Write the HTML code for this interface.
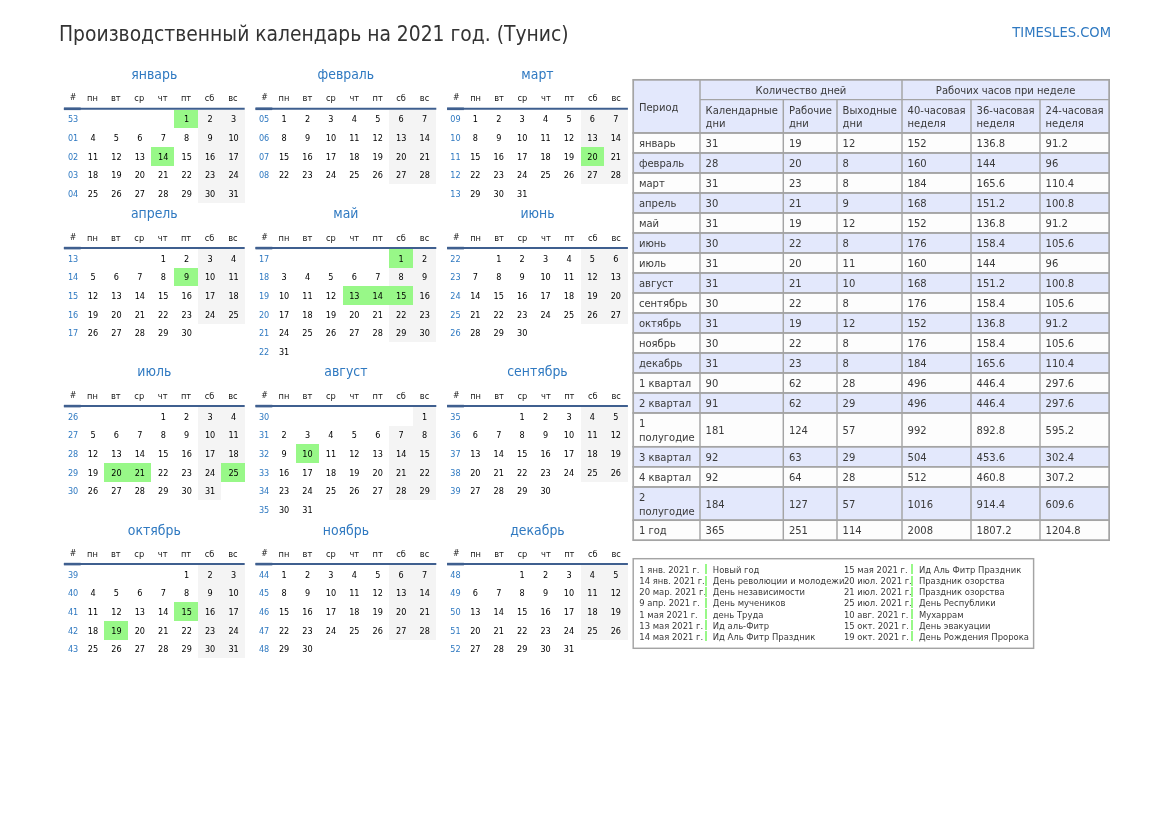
<!DOCTYPE html><html lang="ru"><head><meta charset="utf-8"><title>Производственный календарь на 2021 год. (Тунис)</title><style>html,body{margin:0;padding:0;background:#fff;}
body{width:1169px;height:827px;position:relative;overflow:hidden;font-family:"DejaVu Sans Condensed","DejaVu Sans","Liberation Sans",sans-serif;font-stretch:condensed;color:#222;}
.title{position:absolute;left:59px;top:21.5px;font-size:20.83px;line-height:24px;color:#333;white-space:nowrap;}
.site{position:absolute;right:58px;top:23px;font-size:14.58px;line-height:18px;color:#2f79c1;white-space:nowrap;}
.cal{position:absolute;left:63.9px;top:0;width:564px;}
.mr{position:absolute;left:0;width:564px;display:flex;justify-content:space-between;}
.mr0{top:63.8px}.mr1{top:203.1px}.mr2{top:361.1px}.mr3{top:519.1px}
.m{width:180.8px;}
.mt{text-align:center;color:#2f79c1;font-size:13.89px;line-height:20px;height:24px;}
table{border-collapse:collapse;border-spacing:0;}
.mr3 .mt{position:relative;top:0.8px;}
.c{width:180.8px;table-layout:fixed;border-collapse:separate;border-spacing:0;}
.c th{font-weight:normal;font-size:9.2px;color:#151515;height:18.3px;line-height:18.3px;padding:1.6px 0 0 0;border-bottom:2.08px solid transparent;text-align:center;}
.c th:first-child,.c td:first-child{width:15.3px;padding-left:1.5px;}
.c td{font-size:9.03px;height:17.08px;line-height:17.08px;padding:1.6px 0 0 1.2px;text-align:center;color:#000;}
.m:nth-child(2) .c td{padding-left:0.2px;}
.m:nth-child(3) .c td{padding-left:0;padding-right:0.6px;}
.m:nth-child(2) .c td:first-child{padding-left:0.4px;width:16.4px;}
.m:nth-child(3) .c td:first-child{padding-left:0;padding-right:0;width:16.8px;}
.c th:first-child{padding-top:0.6px;height:19.3px;line-height:19.3px;font-size:8.7px;}
.c td.w{color:#2f79c1;}
.c td.e{background:#f4f4f4;}
.c td.h{background:#98f888;}
.tsvg{position:absolute;left:0;top:0;}
.t{position:absolute;display:grid;font-size:11.11px;line-height:13.6px;color:#3a3a3a;}
.t>div{display:flex;align-items:center;padding:2px 0 0 5.6px;box-sizing:border-box;white-space:nowrap;overflow:hidden;}
.t>div.g{justify-content:center;padding-left:0;}
.hol{position:absolute;left:632.5px;top:558px;width:401.8px;height:91px;border:1.39px solid transparent;box-sizing:border-box;font-size:9.375px;color:#3a3a3a;}
.hc{position:absolute;top:5.1px;}
.hl{left:5.8px}.hr{left:210.4px}
.r{height:11.13px;line-height:11.13px;white-space:nowrap;display:flex;}
.dt{display:block;box-sizing:border-box;}
.hl .dt{width:65.5px}.hr .dt{width:67px}
.nm{display:block;position:relative;padding-left:8px;}
.nm:before{content:"";position:absolute;left:0;top:0.3px;width:2.5px;height:10.1px;background:#98f888;}
</style></head><body>
<div class="title">Производственный календарь на 2021 год. (Тунис)</div>
<div class="site">TIMESLES.COM</div>
<div class="cal">
<div class="mr mr0">
<div class="m"><div class="mt">январь</div><table class="c"><thead><tr><th>#</th><th>пн</th><th>вт</th><th>ср</th><th>чт</th><th>пт</th><th>сб</th><th>вс</th></tr></thead><tbody><tr><td class="w">53</td><td></td><td></td><td></td><td></td><td class="h">1</td><td class="e">2</td><td class="e">3</td></tr><tr><td class="w">01</td><td>4</td><td>5</td><td>6</td><td>7</td><td>8</td><td class="e">9</td><td class="e">10</td></tr><tr><td class="w">02</td><td>11</td><td>12</td><td>13</td><td class="h">14</td><td>15</td><td class="e">16</td><td class="e">17</td></tr><tr><td class="w">03</td><td>18</td><td>19</td><td>20</td><td>21</td><td>22</td><td class="e">23</td><td class="e">24</td></tr><tr><td class="w">04</td><td>25</td><td>26</td><td>27</td><td>28</td><td>29</td><td class="e">30</td><td class="e">31</td></tr></tbody></table></div>
<div class="m"><div class="mt">февраль</div><table class="c"><thead><tr><th>#</th><th>пн</th><th>вт</th><th>ср</th><th>чт</th><th>пт</th><th>сб</th><th>вс</th></tr></thead><tbody><tr><td class="w">05</td><td>1</td><td>2</td><td>3</td><td>4</td><td>5</td><td class="e">6</td><td class="e">7</td></tr><tr><td class="w">06</td><td>8</td><td>9</td><td>10</td><td>11</td><td>12</td><td class="e">13</td><td class="e">14</td></tr><tr><td class="w">07</td><td>15</td><td>16</td><td>17</td><td>18</td><td>19</td><td class="e">20</td><td class="e">21</td></tr><tr><td class="w">08</td><td>22</td><td>23</td><td>24</td><td>25</td><td>26</td><td class="e">27</td><td class="e">28</td></tr></tbody></table></div>
<div class="m"><div class="mt">март</div><table class="c"><thead><tr><th>#</th><th>пн</th><th>вт</th><th>ср</th><th>чт</th><th>пт</th><th>сб</th><th>вс</th></tr></thead><tbody><tr><td class="w">09</td><td>1</td><td>2</td><td>3</td><td>4</td><td>5</td><td class="e">6</td><td class="e">7</td></tr><tr><td class="w">10</td><td>8</td><td>9</td><td>10</td><td>11</td><td>12</td><td class="e">13</td><td class="e">14</td></tr><tr><td class="w">11</td><td>15</td><td>16</td><td>17</td><td>18</td><td>19</td><td class="h">20</td><td class="e">21</td></tr><tr><td class="w">12</td><td>22</td><td>23</td><td>24</td><td>25</td><td>26</td><td class="e">27</td><td class="e">28</td></tr><tr><td class="w">13</td><td>29</td><td>30</td><td>31</td><td></td><td></td><td></td><td></td></tr></tbody></table></div>
</div>
<div class="mr mr1">
<div class="m"><div class="mt">апрель</div><table class="c"><thead><tr><th>#</th><th>пн</th><th>вт</th><th>ср</th><th>чт</th><th>пт</th><th>сб</th><th>вс</th></tr></thead><tbody><tr><td class="w">13</td><td></td><td></td><td></td><td>1</td><td>2</td><td class="e">3</td><td class="e">4</td></tr><tr><td class="w">14</td><td>5</td><td>6</td><td>7</td><td>8</td><td class="h">9</td><td class="e">10</td><td class="e">11</td></tr><tr><td class="w">15</td><td>12</td><td>13</td><td>14</td><td>15</td><td>16</td><td class="e">17</td><td class="e">18</td></tr><tr><td class="w">16</td><td>19</td><td>20</td><td>21</td><td>22</td><td>23</td><td class="e">24</td><td class="e">25</td></tr><tr><td class="w">17</td><td>26</td><td>27</td><td>28</td><td>29</td><td>30</td><td></td><td></td></tr></tbody></table></div>
<div class="m"><div class="mt">май</div><table class="c"><thead><tr><th>#</th><th>пн</th><th>вт</th><th>ср</th><th>чт</th><th>пт</th><th>сб</th><th>вс</th></tr></thead><tbody><tr><td class="w">17</td><td></td><td></td><td></td><td></td><td></td><td class="h">1</td><td class="e">2</td></tr><tr><td class="w">18</td><td>3</td><td>4</td><td>5</td><td>6</td><td>7</td><td class="e">8</td><td class="e">9</td></tr><tr><td class="w">19</td><td>10</td><td>11</td><td>12</td><td class="h">13</td><td class="h">14</td><td class="h">15</td><td class="e">16</td></tr><tr><td class="w">20</td><td>17</td><td>18</td><td>19</td><td>20</td><td>21</td><td class="e">22</td><td class="e">23</td></tr><tr><td class="w">21</td><td>24</td><td>25</td><td>26</td><td>27</td><td>28</td><td class="e">29</td><td class="e">30</td></tr><tr><td class="w">22</td><td>31</td><td></td><td></td><td></td><td></td><td></td><td></td></tr></tbody></table></div>
<div class="m"><div class="mt">июнь</div><table class="c"><thead><tr><th>#</th><th>пн</th><th>вт</th><th>ср</th><th>чт</th><th>пт</th><th>сб</th><th>вс</th></tr></thead><tbody><tr><td class="w">22</td><td></td><td>1</td><td>2</td><td>3</td><td>4</td><td class="e">5</td><td class="e">6</td></tr><tr><td class="w">23</td><td>7</td><td>8</td><td>9</td><td>10</td><td>11</td><td class="e">12</td><td class="e">13</td></tr><tr><td class="w">24</td><td>14</td><td>15</td><td>16</td><td>17</td><td>18</td><td class="e">19</td><td class="e">20</td></tr><tr><td class="w">25</td><td>21</td><td>22</td><td>23</td><td>24</td><td>25</td><td class="e">26</td><td class="e">27</td></tr><tr><td class="w">26</td><td>28</td><td>29</td><td>30</td><td></td><td></td><td></td><td></td></tr></tbody></table></div>
</div>
<div class="mr mr2">
<div class="m"><div class="mt">июль</div><table class="c"><thead><tr><th>#</th><th>пн</th><th>вт</th><th>ср</th><th>чт</th><th>пт</th><th>сб</th><th>вс</th></tr></thead><tbody><tr><td class="w">26</td><td></td><td></td><td></td><td>1</td><td>2</td><td class="e">3</td><td class="e">4</td></tr><tr><td class="w">27</td><td>5</td><td>6</td><td>7</td><td>8</td><td>9</td><td class="e">10</td><td class="e">11</td></tr><tr><td class="w">28</td><td>12</td><td>13</td><td>14</td><td>15</td><td>16</td><td class="e">17</td><td class="e">18</td></tr><tr><td class="w">29</td><td>19</td><td class="h">20</td><td class="h">21</td><td>22</td><td>23</td><td class="e">24</td><td class="h">25</td></tr><tr><td class="w">30</td><td>26</td><td>27</td><td>28</td><td>29</td><td>30</td><td class="e">31</td><td></td></tr></tbody></table></div>
<div class="m"><div class="mt">август</div><table class="c"><thead><tr><th>#</th><th>пн</th><th>вт</th><th>ср</th><th>чт</th><th>пт</th><th>сб</th><th>вс</th></tr></thead><tbody><tr><td class="w">30</td><td></td><td></td><td></td><td></td><td></td><td></td><td class="e">1</td></tr><tr><td class="w">31</td><td>2</td><td>3</td><td>4</td><td>5</td><td>6</td><td class="e">7</td><td class="e">8</td></tr><tr><td class="w">32</td><td>9</td><td class="h">10</td><td>11</td><td>12</td><td>13</td><td class="e">14</td><td class="e">15</td></tr><tr><td class="w">33</td><td>16</td><td>17</td><td>18</td><td>19</td><td>20</td><td class="e">21</td><td class="e">22</td></tr><tr><td class="w">34</td><td>23</td><td>24</td><td>25</td><td>26</td><td>27</td><td class="e">28</td><td class="e">29</td></tr><tr><td class="w">35</td><td>30</td><td>31</td><td></td><td></td><td></td><td></td><td></td></tr></tbody></table></div>
<div class="m"><div class="mt">сентябрь</div><table class="c"><thead><tr><th>#</th><th>пн</th><th>вт</th><th>ср</th><th>чт</th><th>пт</th><th>сб</th><th>вс</th></tr></thead><tbody><tr><td class="w">35</td><td></td><td></td><td>1</td><td>2</td><td>3</td><td class="e">4</td><td class="e">5</td></tr><tr><td class="w">36</td><td>6</td><td>7</td><td>8</td><td>9</td><td>10</td><td class="e">11</td><td class="e">12</td></tr><tr><td class="w">37</td><td>13</td><td>14</td><td>15</td><td>16</td><td>17</td><td class="e">18</td><td class="e">19</td></tr><tr><td class="w">38</td><td>20</td><td>21</td><td>22</td><td>23</td><td>24</td><td class="e">25</td><td class="e">26</td></tr><tr><td class="w">39</td><td>27</td><td>28</td><td>29</td><td>30</td><td></td><td></td><td></td></tr></tbody></table></div>
</div>
<div class="mr mr3">
<div class="m"><div class="mt">октябрь</div><table class="c"><thead><tr><th>#</th><th>пн</th><th>вт</th><th>ср</th><th>чт</th><th>пт</th><th>сб</th><th>вс</th></tr></thead><tbody><tr><td class="w">39</td><td></td><td></td><td></td><td></td><td>1</td><td class="e">2</td><td class="e">3</td></tr><tr><td class="w">40</td><td>4</td><td>5</td><td>6</td><td>7</td><td>8</td><td class="e">9</td><td class="e">10</td></tr><tr><td class="w">41</td><td>11</td><td>12</td><td>13</td><td>14</td><td class="h">15</td><td class="e">16</td><td class="e">17</td></tr><tr><td class="w">42</td><td>18</td><td class="h">19</td><td>20</td><td>21</td><td>22</td><td class="e">23</td><td class="e">24</td></tr><tr><td class="w">43</td><td>25</td><td>26</td><td>27</td><td>28</td><td>29</td><td class="e">30</td><td class="e">31</td></tr></tbody></table></div>
<div class="m"><div class="mt">ноябрь</div><table class="c"><thead><tr><th>#</th><th>пн</th><th>вт</th><th>ср</th><th>чт</th><th>пт</th><th>сб</th><th>вс</th></tr></thead><tbody><tr><td class="w">44</td><td>1</td><td>2</td><td>3</td><td>4</td><td>5</td><td class="e">6</td><td class="e">7</td></tr><tr><td class="w">45</td><td>8</td><td>9</td><td>10</td><td>11</td><td>12</td><td class="e">13</td><td class="e">14</td></tr><tr><td class="w">46</td><td>15</td><td>16</td><td>17</td><td>18</td><td>19</td><td class="e">20</td><td class="e">21</td></tr><tr><td class="w">47</td><td>22</td><td>23</td><td>24</td><td>25</td><td>26</td><td class="e">27</td><td class="e">28</td></tr><tr><td class="w">48</td><td>29</td><td>30</td><td></td><td></td><td></td><td></td><td></td></tr></tbody></table></div>
<div class="m"><div class="mt">декабрь</div><table class="c"><thead><tr><th>#</th><th>пн</th><th>вт</th><th>ср</th><th>чт</th><th>пт</th><th>сб</th><th>вс</th></tr></thead><tbody><tr><td class="w">48</td><td></td><td></td><td>1</td><td>2</td><td>3</td><td class="e">4</td><td class="e">5</td></tr><tr><td class="w">49</td><td>6</td><td>7</td><td>8</td><td>9</td><td>10</td><td class="e">11</td><td class="e">12</td></tr><tr><td class="w">50</td><td>13</td><td>14</td><td>15</td><td>16</td><td>17</td><td class="e">18</td><td class="e">19</td></tr><tr><td class="w">51</td><td>20</td><td>21</td><td>22</td><td>23</td><td>24</td><td class="e">25</td><td class="e">26</td></tr><tr><td class="w">52</td><td>27</td><td>28</td><td>29</td><td>30</td><td>31</td><td></td><td></td></tr></tbody></table></div>
</div>
</div>
<svg class="tsvg" stroke="#a4a4a4" stroke-width="1.45" width="1169" height="827" viewBox="0 0 1169 827"><rect x="633.3" y="79.7" width="475.95" height="53.3" fill="#e3e8fc"/><rect x="633.3" y="133" width="475.95" height="20" fill="#fdfdfd"/><rect x="633.3" y="153" width="475.95" height="20" fill="#e3e8fc"/><rect x="633.3" y="173" width="475.95" height="20" fill="#fdfdfd"/><rect x="633.3" y="193" width="475.95" height="20" fill="#e3e8fc"/><rect x="633.3" y="213" width="475.95" height="20" fill="#fdfdfd"/><rect x="633.3" y="233" width="475.95" height="20" fill="#e3e8fc"/><rect x="633.3" y="253" width="475.95" height="20" fill="#fdfdfd"/><rect x="633.3" y="273" width="475.95" height="20" fill="#e3e8fc"/><rect x="633.3" y="293" width="475.95" height="20" fill="#fdfdfd"/><rect x="633.3" y="313" width="475.95" height="20" fill="#e3e8fc"/><rect x="633.3" y="333" width="475.95" height="20" fill="#fdfdfd"/><rect x="633.3" y="353" width="475.95" height="20" fill="#e3e8fc"/><rect x="633.3" y="373" width="475.95" height="20" fill="#fdfdfd"/><rect x="633.3" y="393" width="475.95" height="20" fill="#e3e8fc"/><rect x="633.3" y="413" width="475.95" height="33.7" fill="#fdfdfd"/><rect x="633.3" y="446.7" width="475.95" height="20.15" fill="#e3e8fc"/><rect x="633.3" y="466.85" width="475.95" height="20.15" fill="#fdfdfd"/><rect x="633.3" y="487" width="475.95" height="33.3" fill="#e3e8fc"/><rect x="633.3" y="520.3" width="475.95" height="20" fill="#fdfdfd"/><line x1="632.575" y1="79.7" x2="1109.97" y2="79.7"/><line x1="700" y1="99.6" x2="1109.97" y2="99.6"/><line x1="632.575" y1="133" x2="1109.97" y2="133"/><line x1="632.575" y1="153" x2="1109.97" y2="153"/><line x1="632.575" y1="173" x2="1109.97" y2="173"/><line x1="632.575" y1="193" x2="1109.97" y2="193"/><line x1="632.575" y1="213" x2="1109.97" y2="213"/><line x1="632.575" y1="233" x2="1109.97" y2="233"/><line x1="632.575" y1="253" x2="1109.97" y2="253"/><line x1="632.575" y1="273" x2="1109.97" y2="273"/><line x1="632.575" y1="293" x2="1109.97" y2="293"/><line x1="632.575" y1="313" x2="1109.97" y2="313"/><line x1="632.575" y1="333" x2="1109.97" y2="333"/><line x1="632.575" y1="353" x2="1109.97" y2="353"/><line x1="632.575" y1="373" x2="1109.97" y2="373"/><line x1="632.575" y1="393" x2="1109.97" y2="393"/><line x1="632.575" y1="413" x2="1109.97" y2="413"/><line x1="632.575" y1="446.7" x2="1109.97" y2="446.7"/><line x1="632.575" y1="466.85" x2="1109.97" y2="466.85"/><line x1="632.575" y1="487" x2="1109.97" y2="487"/><line x1="632.575" y1="520.3" x2="1109.97" y2="520.3"/><line x1="632.575" y1="540.3" x2="1109.97" y2="540.3"/><line x1="633.3" y1="79.7" x2="633.3" y2="540.3"/><line x1="700" y1="79.7" x2="700" y2="540.3"/><line x1="783.3" y1="99.6" x2="783.3" y2="540.3"/><line x1="837" y1="99.6" x2="837" y2="540.3"/><line x1="902" y1="79.7" x2="902" y2="540.3"/><line x1="971" y1="99.6" x2="971" y2="540.3"/><line x1="1040" y1="99.6" x2="1040" y2="540.3"/><line x1="1109.25" y1="79.7" x2="1109.25" y2="540.3"/><rect x="633.2" y="558.7" width="400.4" height="89.6" fill="none"/><line x1="63.9" y1="108.75" x2="244.7" y2="108.75" stroke="#3f5f8f" stroke-width="2.1"/><line x1="63.9" y1="108.8" x2="80.7" y2="108.8" stroke="#3f5f8f" stroke-width="2.6"/><line x1="255.5" y1="108.75" x2="436.3" y2="108.75" stroke="#3f5f8f" stroke-width="2.1"/><line x1="255.5" y1="108.8" x2="272.3" y2="108.8" stroke="#3f5f8f" stroke-width="2.6"/><line x1="447.1" y1="108.75" x2="627.9" y2="108.75" stroke="#3f5f8f" stroke-width="2.1"/><line x1="447.1" y1="108.8" x2="463.9" y2="108.8" stroke="#3f5f8f" stroke-width="2.6"/><line x1="63.9" y1="248.05" x2="244.7" y2="248.05" stroke="#3f5f8f" stroke-width="2.1"/><line x1="63.9" y1="248.1" x2="80.7" y2="248.1" stroke="#3f5f8f" stroke-width="2.6"/><line x1="255.5" y1="248.05" x2="436.3" y2="248.05" stroke="#3f5f8f" stroke-width="2.1"/><line x1="255.5" y1="248.1" x2="272.3" y2="248.1" stroke="#3f5f8f" stroke-width="2.6"/><line x1="447.1" y1="248.05" x2="627.9" y2="248.05" stroke="#3f5f8f" stroke-width="2.1"/><line x1="447.1" y1="248.1" x2="463.9" y2="248.1" stroke="#3f5f8f" stroke-width="2.6"/><line x1="63.9" y1="406.05" x2="244.7" y2="406.05" stroke="#3f5f8f" stroke-width="2.1"/><line x1="63.9" y1="406.1" x2="80.7" y2="406.1" stroke="#3f5f8f" stroke-width="2.6"/><line x1="255.5" y1="406.05" x2="436.3" y2="406.05" stroke="#3f5f8f" stroke-width="2.1"/><line x1="255.5" y1="406.1" x2="272.3" y2="406.1" stroke="#3f5f8f" stroke-width="2.6"/><line x1="447.1" y1="406.05" x2="627.9" y2="406.05" stroke="#3f5f8f" stroke-width="2.1"/><line x1="447.1" y1="406.1" x2="463.9" y2="406.1" stroke="#3f5f8f" stroke-width="2.6"/><line x1="63.9" y1="564.05" x2="244.7" y2="564.05" stroke="#3f5f8f" stroke-width="2.1"/><line x1="63.9" y1="564.1" x2="80.7" y2="564.1" stroke="#3f5f8f" stroke-width="2.6"/><line x1="255.5" y1="564.05" x2="436.3" y2="564.05" stroke="#3f5f8f" stroke-width="2.1"/><line x1="255.5" y1="564.1" x2="272.3" y2="564.1" stroke="#3f5f8f" stroke-width="2.6"/><line x1="447.1" y1="564.05" x2="627.9" y2="564.05" stroke="#3f5f8f" stroke-width="2.1"/><line x1="447.1" y1="564.1" x2="463.9" y2="564.1" stroke="#3f5f8f" stroke-width="2.6"/></svg>
<div class="t" style="left:633.3px;top:79.7px;grid-template-columns:66.7px 83.3px 53.7px 65px 69px 69px 69.25px;grid-template-rows:19.9px 33.4px 20px 20px 20px 20px 20px 20px 20px 20px 20px 20px 20px 20px 20px 20px 33.7px 20.15px 20.15px 33.3px 20px">
<div class="hd p" style="grid-row:1/3">Период</div><div class="hd g" style="grid-column:2/5">Количество дней</div><div class="hd g" style="grid-column:5/8">Рабочих часов при неделе</div>
<div class="hd">Календарные<br>дни</div>
<div class="hd">Рабочие<br>дни</div>
<div class="hd">Выходные<br>дни</div>
<div class="hd">40-часовая<br>неделя</div>
<div class="hd">36-часовая<br>неделя</div>
<div class="hd">24-часовая<br>неделя</div>
<div>январь</div><div>31</div><div>19</div><div>12</div><div>152</div><div>136.8</div><div>91.2</div>
<div>февраль</div><div>28</div><div>20</div><div>8</div><div>160</div><div>144</div><div>96</div>
<div>март</div><div>31</div><div>23</div><div>8</div><div>184</div><div>165.6</div><div>110.4</div>
<div>апрель</div><div>30</div><div>21</div><div>9</div><div>168</div><div>151.2</div><div>100.8</div>
<div>май</div><div>31</div><div>19</div><div>12</div><div>152</div><div>136.8</div><div>91.2</div>
<div>июнь</div><div>30</div><div>22</div><div>8</div><div>176</div><div>158.4</div><div>105.6</div>
<div>июль</div><div>31</div><div>20</div><div>11</div><div>160</div><div>144</div><div>96</div>
<div>август</div><div>31</div><div>21</div><div>10</div><div>168</div><div>151.2</div><div>100.8</div>
<div>сентябрь</div><div>30</div><div>22</div><div>8</div><div>176</div><div>158.4</div><div>105.6</div>
<div>октябрь</div><div>31</div><div>19</div><div>12</div><div>152</div><div>136.8</div><div>91.2</div>
<div>ноябрь</div><div>30</div><div>22</div><div>8</div><div>176</div><div>158.4</div><div>105.6</div>
<div>декабрь</div><div>31</div><div>23</div><div>8</div><div>184</div><div>165.6</div><div>110.4</div>
<div>1 квартал</div><div>90</div><div>62</div><div>28</div><div>496</div><div>446.4</div><div>297.6</div>
<div>2 квартал</div><div>91</div><div>62</div><div>29</div><div>496</div><div>446.4</div><div>297.6</div>
<div>1<br>полугодие</div><div>181</div><div>124</div><div>57</div><div>992</div><div>892.8</div><div>595.2</div>
<div>3 квартал</div><div>92</div><div>63</div><div>29</div><div>504</div><div>453.6</div><div>302.4</div>
<div>4 квартал</div><div>92</div><div>64</div><div>28</div><div>512</div><div>460.8</div><div>307.2</div>
<div>2<br>полугодие</div><div>184</div><div>127</div><div>57</div><div>1016</div><div>914.4</div><div>609.6</div>
<div>1 год</div><div>365</div><div>251</div><div>114</div><div>2008</div><div>1807.2</div><div>1204.8</div>
</div>
<div class="hol"><div class="hc hl">
<div class="r"><span class="dt">1 янв. 2021 г.</span><span class="nm">Новый год</span></div>
<div class="r"><span class="dt">14 янв. 2021 г.</span><span class="nm">День революции и молодежи</span></div>
<div class="r"><span class="dt">20 мар. 2021 г.</span><span class="nm">День независимости</span></div>
<div class="r"><span class="dt">9 апр. 2021 г.</span><span class="nm">День мучеников</span></div>
<div class="r"><span class="dt">1 мая 2021 г.</span><span class="nm">день Труда</span></div>
<div class="r"><span class="dt">13 мая 2021 г.</span><span class="nm">Ид аль-Фитр</span></div>
<div class="r"><span class="dt">14 мая 2021 г.</span><span class="nm">Ид Аль Фитр Праздник</span></div>
</div><div class="hc hr">
<div class="r"><span class="dt">15 мая 2021 г.</span><span class="nm">Ид Аль Фитр Праздник</span></div>
<div class="r"><span class="dt">20 июл. 2021 г.</span><span class="nm">Праздник озорства</span></div>
<div class="r"><span class="dt">21 июл. 2021 г.</span><span class="nm">Праздник озорства</span></div>
<div class="r"><span class="dt">25 июл. 2021 г.</span><span class="nm">День Республики</span></div>
<div class="r"><span class="dt">10 авг. 2021 г.</span><span class="nm">Мухаррам</span></div>
<div class="r"><span class="dt">15 окт. 2021 г.</span><span class="nm">День эвакуации</span></div>
<div class="r"><span class="dt">19 окт. 2021 г.</span><span class="nm">День Рождения Пророка</span></div>
</div></div>
</body></html>
